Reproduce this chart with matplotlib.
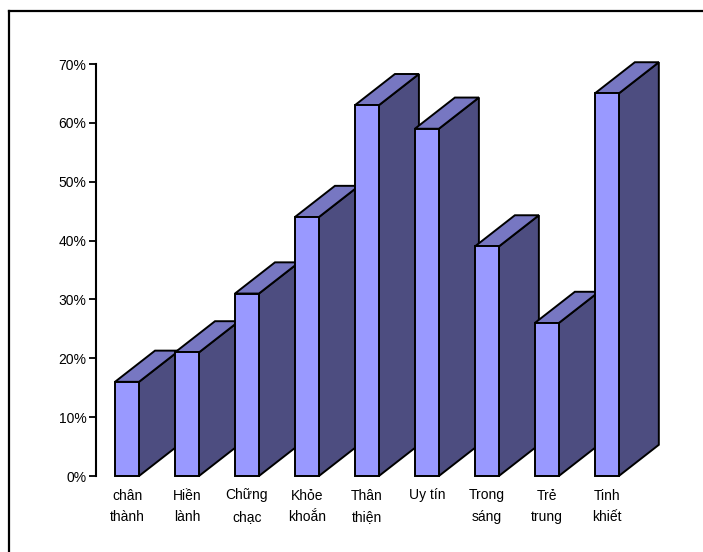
import matplotlib.pyplot as plt
from matplotlib.patches import Polygon, Rectangle
from matplotlib.lines import Line2D
from matplotlib.ticker import FuncFormatter

plt.rcParams['font.family'] = ['Liberation Sans', 'DejaVu Sans']

categories = ['chân\nthành', 'Hiền\nlành', 'Chững\nchạc', 'Khỏe\nkhoắn', 'Thân\nthiện',
              'Uy tín', 'Trong\nsáng', 'Trẻ\ntrung', 'Tinh\nkhiết']
values = [16, 21, 31, 44, 63, 59, 39, 26, 65]

front_color = '#9999FF'
top_color = '#7777C2'
side_color = '#4D4D80'

fig = plt.figure(figsize=(7.03, 5.52), dpi=100)
ax = fig.add_axes([96 / 703, 76 / 552, 569 / 703, 412 / 552])

width = 0.4
depth_x = 0.667   # depth offset along categories
depth_y = 5.3     # depth offset along value axis

for i, v in enumerate(values):
    x0, x1 = i - width / 2, i + width / 2
    z = 2 + i * 3
    side = Polygon([(x1, 0), (x1 + depth_x, depth_y), (x1 + depth_x, v + depth_y), (x1, v)],
                   closed=True, facecolor=side_color, edgecolor='black', lw=1.4,
                   joinstyle='miter', clip_on=False, zorder=z)
    top = Polygon([(x0, v), (x1, v), (x1 + depth_x, v + depth_y), (x0 + depth_x, v + depth_y)],
                  closed=True, facecolor=top_color, edgecolor='black', lw=1.4,
                  joinstyle='miter', clip_on=False, zorder=z + 1)
    front = Rectangle((x0, 0), width, v, facecolor=front_color, edgecolor='black',
                      lw=1.4, joinstyle='miter', clip_on=False, zorder=z + 2)
    ax.add_patch(side)
    ax.add_patch(top)
    ax.add_patch(front)

ax.set_xlim(-0.517, 8.97)
ax.set_ylim(0, 70)
ax.set_yticks(range(0, 71, 10))
ax.yaxis.set_major_formatter(FuncFormatter(lambda y, _: f'{int(y)}%'))
ax.set_xticks(range(len(categories)))
ax.set_xticklabels(categories, linespacing=1.7)
ax.tick_params(axis='x', length=0, pad=9, labelsize=10)
ax.tick_params(axis='y', length=5, width=1.3, pad=2, labelsize=10)
for s in ['top', 'right', 'bottom']:
    ax.spines[s].set_visible(False)
ax.spines['left'].set_linewidth(1.5)
ax.patch.set_alpha(0)

# frame lines along top and left of the figure
fig.add_artist(Line2D([9 / 703, 1], [1 - 10.5 / 552, 1 - 10.5 / 552],
                      transform=fig.transFigure, color='black', lw=1.6))
fig.add_artist(Line2D([9 / 703, 9 / 703], [0, 1 - 10.5 / 552],
                      transform=fig.transFigure, color='black', lw=1.6))

fig.savefig('out.png', dpi=100)
